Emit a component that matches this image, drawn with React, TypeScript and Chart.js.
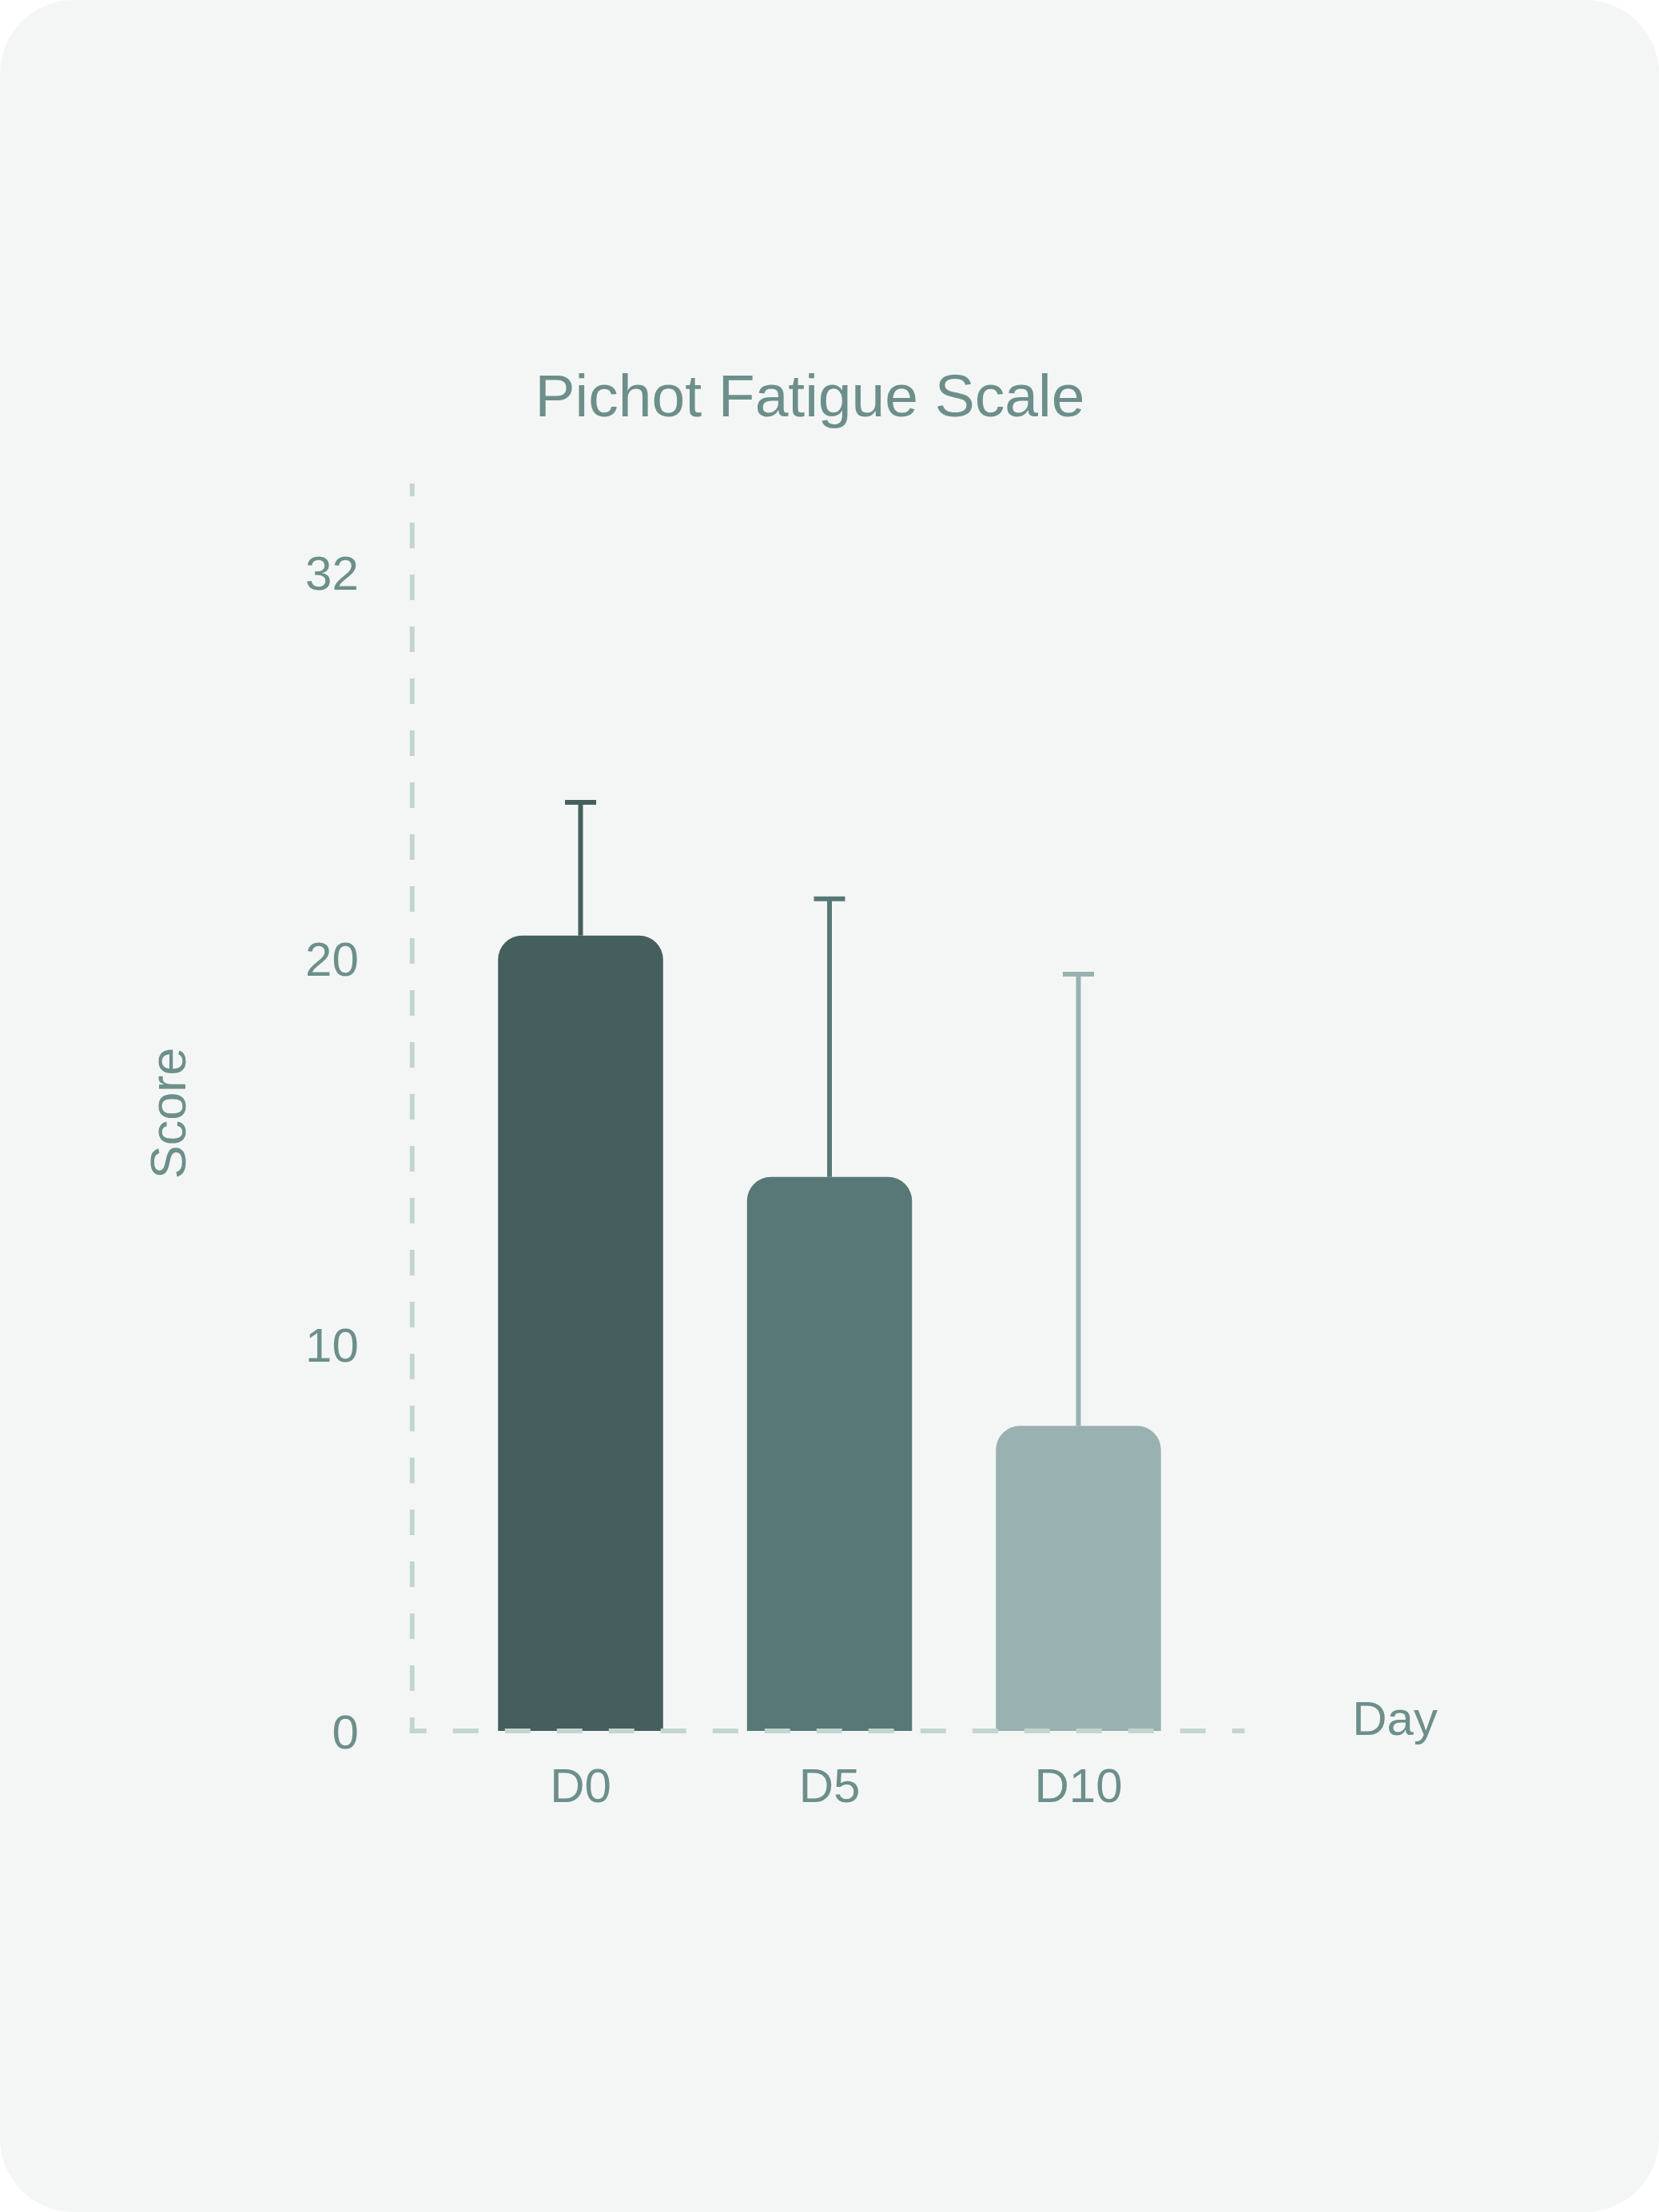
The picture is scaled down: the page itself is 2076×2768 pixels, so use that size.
import React, { useEffect, useRef } from "react";
import { Chart, registerables } from "chart.js";

Chart.register(...registerables);

// ---- data ----
const categories = ["D0", "D5", "D10"];
const meanScores = [20.6, 14.35, 7.9];
const sdScores = [3.45, 7.2, 11.7];
const barColors = ["#455f5e", "#577876", "#99b2b1"];
const yTickValues = [0, 10, 20, 30];
const yTickLabels = ["0", "10", "20", "32"];
const yMax = 32;
const chartTitle = "Pichot Fatigue Scale";
const yAxisTitle = "Score";
const xAxisTitle = "Day";

// ---- style ----
const TEXT = "#6c8f8b";
const AXIS = "#c3d5d1";
const FONT = "'Liberation Sans', Arial, Helvetica, sans-serif";

const decorPlugin = {
  id: "decor",
  afterDatasetsDraw(chart: any) {
    const { ctx, chartArea, scales } = chart;
    const y = scales.y;
    const zeroY = y.getPixelForValue(0);

    // error bars (upper only)
    const meta = chart.getDatasetMeta(0);
    meta.data.forEach((bar: any, i: number) => {
      const topY = y.getPixelForValue(meanScores[i] + sdScores[i]);
      ctx.save();
      ctx.strokeStyle = barColors[i];
      ctx.lineWidth = 6;
      ctx.lineCap = "butt";
      ctx.beginPath();
      ctx.moveTo(bar.x, bar.y);
      ctx.lineTo(bar.x, topY);
      ctx.moveTo(bar.x - 19.5, topY);
      ctx.lineTo(bar.x + 19.5, topY);
      ctx.stroke();
      ctx.restore();
    });

    // dashed axes
    ctx.save();
    ctx.strokeStyle = AXIS;
    ctx.lineWidth = 6;
    ctx.lineCap = "butt";
    ctx.setLineDash([32, 33]);

    const vx = chartArea.left - 55;
    ctx.lineDashOffset = 16;
    ctx.beginPath();
    ctx.moveTo(vx, chartArea.top - 15);
    ctx.lineTo(vx, zeroY + 3);
    ctx.stroke();

    ctx.lineDashOffset = 11;
    ctx.beginPath();
    ctx.moveTo(chartArea.left - 58, zeroY);
    ctx.lineTo(chartArea.right + 52, zeroY);
    ctx.stroke();

    ctx.setLineDash([]);
    ctx.fillStyle = TEXT;
    ctx.font = `60px ${FONT}`;
    ctx.textAlign = "left";
    ctx.textBaseline = "middle";
    ctx.fillText(xAxisTitle, chartArea.right + 187, zeroY - 12);
    ctx.restore();
  },
};

export default function App() {
  const ref = useRef<HTMLCanvasElement>(null);

  useEffect(() => {
    document.body.style.margin = "0";
    const canvas = ref.current;
    if (!canvas) return;
    const chart = new Chart(canvas, {
      type: "bar",
      data: {
        labels: categories,
        datasets: [
          {
            data: meanScores,
            backgroundColor: barColors,
            borderWidth: 0,
            borderRadius: 30,
            borderSkipped: "start",
            barPercentage: 0.663,
            categoryPercentage: 1,
            yAxisID: "y",
            xAxisID: "x",
          },
        ],
      },
      options: {
        responsive: false,
        animation: false,
        events: [],
        layout: { padding: { left: 177, right: 226, top: 400, bottom: 458 } },
        plugins: {
          legend: { display: false },
          tooltip: { enabled: false },
          title: {
            display: true,
            text: chartTitle,
            color: TEXT,
            font: { family: FONT, size: 75, weight: "normal", lineHeight: 1.2 },
            padding: { top: 55, bottom: 75 },
          },
        },
        scales: {
          x: {
            type: "category",
            offset: true,
            grid: { display: false, drawTicks: false },
            border: { display: false },
            ticks: {
              color: TEXT,
              font: { family: FONT, size: 60, lineHeight: 1.2 },
              padding: 36,
              maxRotation: 0,
              autoSkip: false,
            },
          },
          y: {
            type: "linear",
            position: "left",
            min: 0,
            max: yMax,
            grid: { display: false, drawTicks: false },
            border: { display: false },
            afterBuildTicks: (s: any) => {
              s.ticks = yTickValues.map((v) => ({ value: v }));
            },
            ticks: {
              color: TEXT,
              font: { family: FONT, size: 60, lineHeight: 1.2 },
              padding: 122,
              labelOffset: 5,
              callback: (value: any) => yTickLabels[yTickValues.indexOf(Number(value))],
            },
            title: {
              display: true,
              text: yAxisTitle,
              color: TEXT,
              font: { family: FONT, size: 63, lineHeight: 1.2 },
              padding: 0,
            },
            afterFit: (s: any) => {
              s.width = 393.75;
            },
          },
          yR: {
            type: "linear",
            position: "right",
            grid: { display: false, drawTicks: false },
            border: { display: false },
            ticks: { display: false },
            afterFit: (s: any) => {
              s.width = 344.75;
            },
          },
        },
      },
      plugins: [decorPlugin],
    } as any);
    return () => chart.destroy();
  }, []);

  return (
    <div style={{ width: 2076, height: 2768, background: "#ffffff" }}>
      <div
        style={{
          width: 2076,
          height: 2768,
          borderRadius: 92,
          background: "#f4f6f5",
          overflow: "hidden",
        }}
      >
        <canvas
          ref={ref}
          width={2076}
          height={2768}
          style={{ display: "block", width: 2076, height: 2768 }}
        />
      </div>
    </div>
  );
}
